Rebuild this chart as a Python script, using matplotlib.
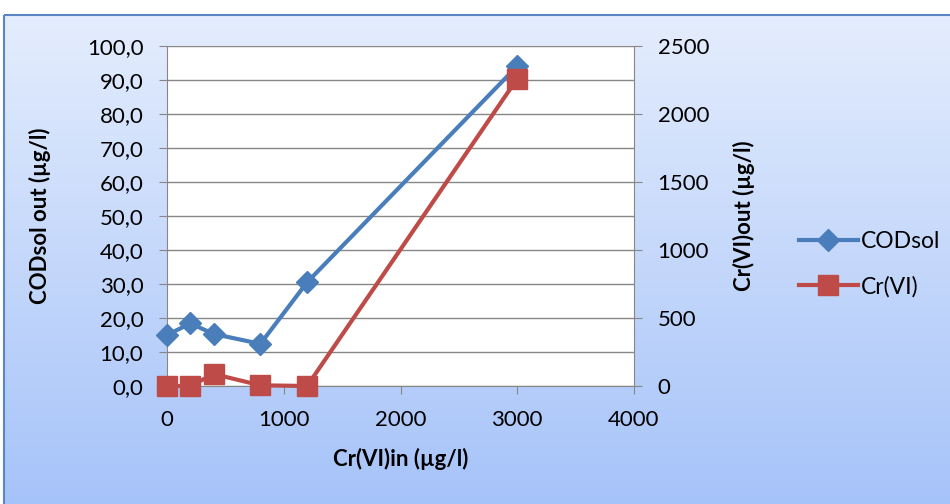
import matplotlib
matplotlib.use("Agg")
import matplotlib.pyplot as plt
import numpy as np
from matplotlib.ticker import FuncFormatter, MultipleLocator
from matplotlib.lines import Line2D
from matplotlib.patches import Rectangle

plt.rcParams['font.family'] = ['Lato', 'DejaVu Sans']

x_in = [0, 200, 400, 800, 1200, 3000]
cod_sol = [15.0, 18.4, 15.3, 12.4, 30.5, 94.1]
cr_out = [0, 0, 88, 5, 0, 2260]

W, H = 950, 504
fig = plt.figure(figsize=(W / 100, H / 100), dpi=100)

# background gradient panel
bg = fig.add_axes([0, 0, 1, 1], zorder=-10)
bg.set_xlim(0, W)
bg.set_ylim(H, 0)
bg.axis('off')
grad = np.linspace(0, 1, 256).reshape(-1, 1)
top = np.array([0xE4, 0xED, 0xFD]) / 255
bot = np.array([0xA6, 0xC3, 0xF9]) / 255
img = top + (bot - top) * grad[..., None]
bg.imshow(img, extent=[4, W + 2, H, 15], aspect='auto')
bg.add_patch(Rectangle((4, 15), W, H, fill=False, edgecolor='#5A86C4', lw=1.5))

L, R, T, B = 167, 634, 46, 386
ax = fig.add_axes([L / W, 1 - B / H, (R - L) / W, (B - T) / H])
ax.set_facecolor('white')
blue = '#4A7EBB'
red = '#BE4B48'
grey = '#878787'
ax.plot(x_in, cod_sol, color=blue, lw=3, marker='D', ms=11, zorder=3, clip_on=False)
ax.set_xlim(0, 4000)
ax.set_ylim(0, 100)
ax.yaxis.set_major_locator(MultipleLocator(10))
ax.xaxis.set_major_locator(MultipleLocator(1000))
ax.yaxis.set_major_formatter(FuncFormatter(lambda v, p: f"{v:.1f}".replace('.', ',')))
ax.grid(axis='y', color=grey, lw=1)
ax.set_axisbelow(True)
for s in ['top', 'right']:
    ax.spines[s].set_visible(False)
ax.spines['left'].set_color(grey)
ax.spines['bottom'].set_color(grey)
ax.tick_params(axis='y', length=6, color=grey, labelsize=16, pad=11)
ax.tick_params(axis='x', length=6, color=grey, labelsize=16, pad=11)
ax.set_xlabel('Cr(VI)in (µg/l)', fontsize=16, fontweight='bold', labelpad=13)
ax.set_ylabel('CODsol out (µg/l)', fontsize=16, fontweight='bold', labelpad=26)

ax2 = ax.twinx()
ax2.plot(x_in, cr_out, color=red, lw=3, marker='s', ms=14, zorder=3, clip_on=False)
ax2.set_ylim(0, 2500)
ax2.yaxis.set_major_locator(MultipleLocator(500))
for s in ['top', 'left', 'bottom']:
    ax2.spines[s].set_visible(False)
ax2.spines['right'].set_color(grey)
ax2.tick_params(axis='y', length=6, color=grey, labelsize=16, pad=11)
ax2.set_ylabel('Cr(VI)out (µg/l)', fontsize=16, fontweight='bold', labelpad=17)

handles = [Line2D([], [], color=blue, lw=3, marker='D', ms=11),
           Line2D([], [], color=red, lw=3, marker='s', ms=14)]
fig.legend(handles, ['CODsol', 'Cr(VI)'], loc='center left',
           bbox_to_anchor=(778 / W, 1 - 264 / H), frameon=False, fontsize=16.5,
           handlelength=2.6, labelspacing=1.05, handletextpad=0.1)

fig.savefig('out.png', dpi=100)
